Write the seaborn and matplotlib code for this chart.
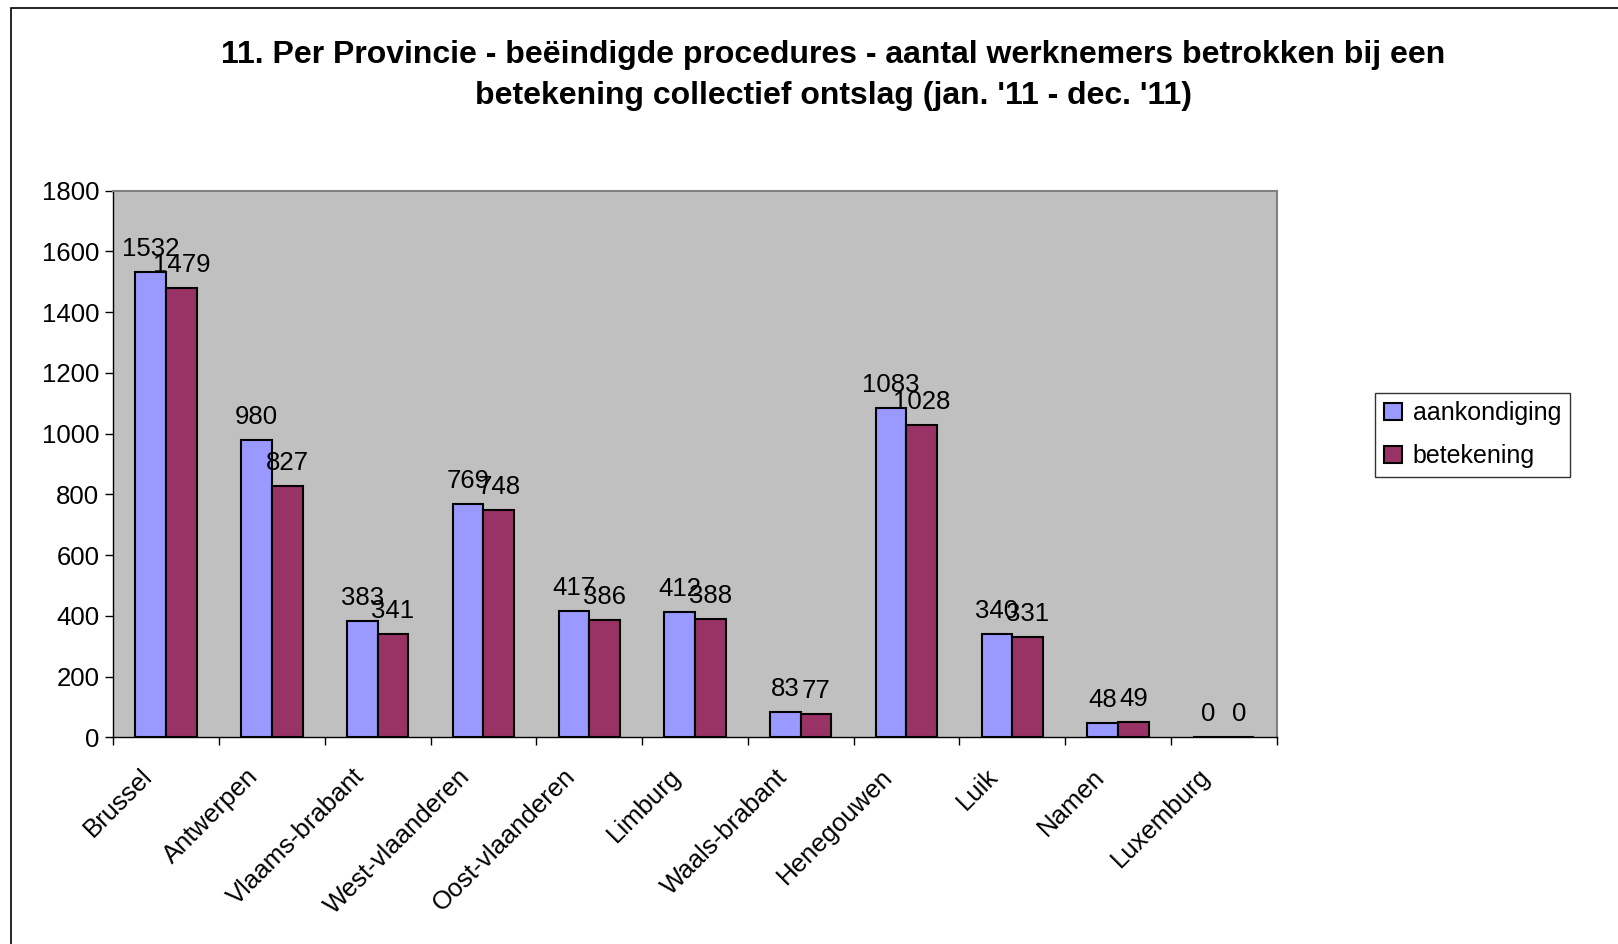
import pandas as pd
import matplotlib.pyplot as plt
import seaborn as sns
from matplotlib.patches import Rectangle
from matplotlib.ticker import FixedLocator
from matplotlib.transforms import ScaledTranslation

provincies = ['Brussel', 'Antwerpen', 'Vlaams-brabant', 'West-vlaanderen', 'Oost-vlaanderen',
              'Limburg', 'Waals-brabant', 'Henegouwen', 'Luik', 'Namen', 'Luxemburg']
aankondiging = [1532, 980, 383, 769, 417, 412, 83, 1083, 340, 48, 0]
betekening = [1479, 827, 341, 748, 386, 388, 77, 1028, 331, 49, 0]
reeksen = ['aankondiging', 'betekening']
kleuren = ['#9999FF', '#993366']
yticks = list(range(0, 1801, 200))

df = pd.DataFrame({'provincie': provincies * 2,
                   'reeks': ['aankondiging'] * len(provincies) + ['betekening'] * len(provincies),
                   'aantal': aankondiging + betekening})

sns.set_style("white")
plt.rcParams['font.family'] = ['Liberation Sans', 'DejaVu Sans']
plt.rcParams['text.color'] = 'black'
plt.rcParams['xtick.color'] = 'black'
plt.rcParams['ytick.color'] = 'black'

fig = plt.figure(figsize=(16.18, 9.44), dpi=100)
ax = fig.add_axes([0.070, 0.219, 0.719, 0.579])

sns.barplot(data=df, x='provincie', y='aantal', hue='reeks', hue_order=reeksen,
            palette=kleuren, width=0.58, edgecolor='black', linewidth=1.5,
            saturation=1, ax=ax)

for c in ax.containers:
    ax.bar_label(c, fmt='%d', padding=8, fontsize=18.5)

ax.set_facecolor('#C0C0C0')
ax.set_ylim(0, 1800)
ax.set_xlim(-0.5, len(provincies) - 0.5)
ax.set_yticks(yticks)
ax.set_xlabel('')
ax.set_ylabel('')
ax.tick_params(axis='y', labelsize=18.5, length=6, width=1, direction='out', left=True, pad=4)
ax.tick_params(axis='x', which='major', labelsize=18.5, length=0, pad=8)
ax.xaxis.set_minor_locator(FixedLocator([i - 0.5 for i in range(len(provincies) + 1)]))
ax.tick_params(axis='x', which='minor', length=6, width=1, direction='out', bottom=True)
shift = ScaledTranslation(-26 / 100, -16 / 100, fig.dpi_scale_trans)
for lab in ax.get_xticklabels():
    lab.set_rotation(45)
    lab.set_ha('right')
    lab.set_rotation_mode('anchor')
    lab.set_transform(lab.get_transform() + shift)

for s in ['top', 'right']:
    ax.spines[s].set_color('#808080')
    ax.spines[s].set_linewidth(1.5)
for s in ['left', 'bottom']:
    ax.spines[s].set_color('black')
    ax.spines[s].set_linewidth(1)

leg = ax.legend(loc='upper left', bbox_to_anchor=(0.850, 0.584), bbox_transform=fig.transFigure,
                fontsize=18, frameon=True, fancybox=False, edgecolor='black',
                handlelength=0.7, handleheight=0.7, handletextpad=0.45,
                borderpad=0.35, labelspacing=0.75, borderaxespad=0)
leg.get_frame().set_linewidth(1)

fig.text(0.515, 0.942, "11. Per Provincie - beëindigde procedures - aantal werknemers betrokken bij een",
         ha='center', va='center', fontsize=23, fontweight='bold')
fig.text(0.515, 0.898, "betekening collectief ontslag (jan. '11 - dec. '11)",
         ha='center', va='center', fontsize=23, fontweight='bold')

fig.patches.append(Rectangle((0.0065, -0.02), 1.02, 1.011, transform=fig.transFigure,
                             fill=False, edgecolor='black', linewidth=1.2))

fig.savefig('out.png', dpi=100)
